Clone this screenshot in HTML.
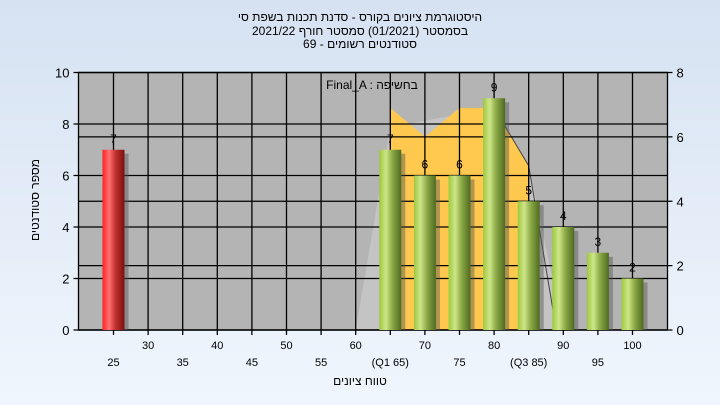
<!DOCTYPE html>
<html><head><meta charset="utf-8"><style>
body{margin:0;width:720px;height:405px;overflow:hidden;background:linear-gradient(#d6e2f2,#f0f6fd);font-family:"Liberation Sans",sans-serif;}
svg{display:block}
text{font-family:"Liberation Sans","Noto Sans CJK SC",sans-serif;}
</style></head><body>
<svg width="720" height="405">
<defs>
<linearGradient id="g" x1="0" x2="1"><stop offset="0" stop-color="#9cc83c"/><stop offset="0.3" stop-color="#cfe68a"/><stop offset="0.6" stop-color="#8aa844"/><stop offset="1" stop-color="#4f6a22"/></linearGradient>
<linearGradient id="r" x1="0" x2="1"><stop offset="0" stop-color="#ff2020"/><stop offset="0.3" stop-color="#ff7070"/><stop offset="0.6" stop-color="#c03030"/><stop offset="1" stop-color="#7a1010"/></linearGradient>
</defs>
<g font-size="12" text-anchor="middle" fill="#000">
<text x="360" y="21">היסטוגרמת ציונים בקורס - סדנת תכנות בשפת סי</text>
<text x="360" y="35">בסמסטר  (01/2021)  סמסטר חורף 2021/22</text>
<text x="360" y="48">סטודנטים רשומים - 69</text>
</g>
<rect x="78.5" y="72.5" width="589" height="257.5" fill="#b4b4b4"/>
<g id="shapes"></g>
<g id="grid" stroke="#000" stroke-width="1.3"></g>
<g id="bars"></g>
<g id="axes"></g>
<text x="372" y="89" font-size="12" text-anchor="middle">Final_A : בחשיפה</text>
<text x="360" y="385" font-size="12" text-anchor="middle">טווח ציונים</text>
<text transform="translate(39,200) rotate(-90)" font-size="12" text-anchor="middle">מספר סטודנטים</text>
</svg>
<script>
const categories=[25,30,35,40,45,50,55,60,65,70,75,80,85,90,95,100];
const xLabels=["25","30","35","40","45","50","55","60","(Q1 65)","70","75","80","(Q3 85)","90","95","100"];
const counts=[7,0,0,0,0,0,0,0,7,6,6,9,5,4,3,2];
const leftTicks=[0,2,4,6,8,10];
const rightTicks=[0,2,4,6,8];
const bandX=[60,65,70,75,78.3,80,85,85];
const bandY=[0,6.9,6,6.9,6.9,6.9,5.1,0];
const NS="http://www.w3.org/2000/svg";
const X0=78.5,X1=667.5,Y0=330,Y1=72.5;
const x=v=>113.5+(v-25)*6.92;
const yl=v=>Y0-(v/10)*(Y0-Y1);
const yr=v=>Y0-(v/8)*(Y0-Y1);
function mk(t,a,p){const e=document.createElementNS(NS,t);for(const k in a)e.setAttribute(k,a[k]);p.appendChild(e);return e;}
const shapes=document.getElementById('shapes'),grid=document.getElementById('grid'),bars=document.getElementById('bars'),axes=document.getElementById('axes');
let gp=mk('polygon',{points:`${x(60)},${Y0} ${x(65)},${yr(6.3)} ${x(80)},${yr(6.9)} ${x(85)},${yr(5.1)} ${x(90)},${Y0}`,fill:'#c4c4c4'},shapes);


let yp=mk('polygon',{points:bandX.map((v,i)=>x(v)+','+yr(bandY[i])).join(' ').replace(/^[^ ]+/,x(65)+','+Y0),fill:'#ffc94f'},shapes);


let tl=mk('polyline',{points:`${x(80)},${yr(6.9)} ${x(85)},${yr(5.1)} ${x(89)},${Y0}`,fill:'none',stroke:'#444','stroke-width':1},shapes);


categories.forEach(c=>{const l=mk('line',{x1:x(c),x2:x(c),y1:Y1,y2:Y0+5},grid);

});
leftTicks.forEach(t=>{const l=mk('line',{x1:X0-5,x2:X1,y1:yl(t),y2:yl(t)},grid);


const tx=mk('text',{x:X0-9,y:yl(t)+5,'font-size':13,'text-anchor':'end'},axes);tx.textContent=t;

});
rightTicks.forEach(t=>{const l=mk('line',{x1:X0,x2:X1+5,y1:yr(t),y2:yr(t)},grid);


const tx=mk('text',{x:X1+9,y:yr(t)+5,'font-size':13},axes);tx.textContent=t;

});
mk('rect',{x:X0,y:Y1,width:X1-X0,height:Y0-Y1,fill:'none',stroke:'#000','stroke-width':1.3},grid);
categories.forEach((c,i)=>{const tx=mk('text',{x:x(c),y:i%2?349:366,'font-size':11,'text-anchor':'middle'},axes);tx.textContent=xLabels[i];

});
categories.forEach((c,i)=>{if(!counts[i])return;const bx=x(c)-11,by=yl(counts[i]);
mk('rect',{x:bx+4,y:by+4,width:22,height:Y0-by-4,fill:'#555',opacity:0.45},bars);
const b=mk('rect',{x:bx,y:by,width:22,height:Y0-by,fill:c<55?'url(#r)':'url(#g)'},bars);


const tx=mk('text',{x:x(c),y:by-7,'font-size':12,'text-anchor':'middle'},bars);tx.textContent=counts[i];

});
</script>
</body></html>
